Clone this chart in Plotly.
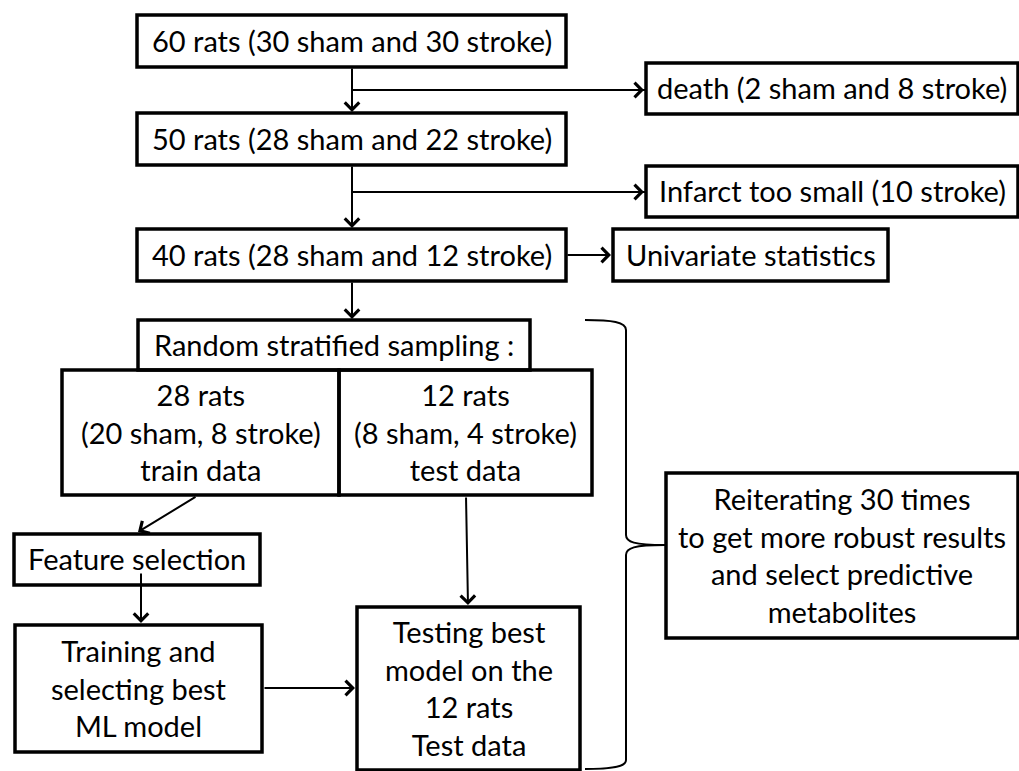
import plotly.graph_objects as go

# ---- content (text of the flow chart) ----
box_labels = [
    "60 rats (30 sham and 30 stroke)",
    "death (2 sham and 8 stroke)",
    "50 rats (28 sham and 22 stroke)",
    "Infarct too small (10 stroke)",
    "40 rats (28 sham and 12 stroke)",
    "Univariate statistics",
    "Random stratified sampling :",
    "28 rats<br>(20 sham, 8 stroke)<br>train data",
    "12 rats<br>(8 sham, 4 stroke)<br>test data",
    "Feature selection",
    "Training and<br>selecting best<br>ML model",
    "Testing best<br>model on the<br>12 rats<br>Test data",
    "Reiterating 30 times<br>to get more robust results<br>and select predictive<br>metabolites",
]

# ---- layout geometry (pixels, y downward) ----
box_rects = [
    (137, 15, 566, 67),
    (646, 63, 1018, 114),
    (137, 113, 566, 165),
    (646, 166, 1018, 217),
    (137, 229, 566, 281),
    (613, 229, 888, 281),
    (138, 320, 530, 370),
    (62, 370, 339, 495),
    (339, 370, 592, 495),
    (14, 534, 260, 585),
    (15, 625, 262, 752),
    (357, 607, 580, 770),
    (666, 473, 1018, 638),
]

# plain connector lines (no arrow)
lines = [
    (352, 90, 645, 90),
    (352, 192, 645, 192),
]
# arrows: (x_from, y_from, x_to, y_to)
arrows = [
    (352, 67, 352, 112),
    (352, 90, 644, 90),
    (352, 165, 352, 228),
    (352, 192, 644, 192),
    (566, 255, 611, 255),
    (352, 281, 352, 319),
    (197, 496, 138, 532),
    (141, 572, 141, 623),
    (466, 496, 468, 605),
    (263, 688, 355, 688),
]

W, H = 1019, 771
FONT = "Lato, Carlito, Calibri, sans-serif"
FS = 29

fig = go.Figure()
fig.add_trace(go.Scatter(x=[0, W], y=[0, H], mode="markers",
                         marker=dict(opacity=0), hoverinfo="skip", showlegend=False))

shapes = []
for (x0, y0, x1, y1) in box_rects:
    shapes.append(dict(type="rect", xref="x", yref="y", x0=x0, y0=y0, x1=x1, y1=y1,
                       line=dict(color="black", width=3.5), fillcolor="rgba(0,0,0,0)",
                       layer="above"))
for (x0, y0, x1, y1) in lines:
    shapes.append(dict(type="line", xref="x", yref="y", x0=x0, y0=y0, x1=x1, y1=y1,
                       line=dict(color="black", width=2)))

# curly brace
brace = ("M 585,320 C 612,320 626,322 626,330 L 626,535 C 626,542 634,545 665,545 "
         "M 665,545 C 634,545 626,548 626,555 L 626,760 C 626,767 612,769 585,769")
shapes.append(dict(type="path", xref="x", yref="y", path=brace,
                   line=dict(color="black", width=2)))

annotations = []
for (x0, y0, x1, y1), lab in zip(box_rects, box_labels):
    annotations.append(dict(x=(x0 + x1) / 2, y=(y0 + y1) / 2 - 1, xref="x", yref="y",
                            text=lab, showarrow=False, align="center",
                            font=dict(family=FONT, size=FS, color="black"),
                            xanchor="center", yanchor="middle"))
for (xa, ya, xb, yb) in arrows:
    annotations.append(dict(x=xb, y=yb, ax=xa, ay=ya, xref="x", yref="y",
                            axref="x", ayref="y", text="", showarrow=True,
                            arrowhead=4, arrowsize=1.4, arrowwidth=2,
                            arrowcolor="black", standoff=0, startstandoff=0))

fig.update_layout(
    width=W, height=H,
    margin=dict(l=0, r=0, t=0, b=0),
    paper_bgcolor="white", plot_bgcolor="white",
    xaxis=dict(range=[0, W], visible=False, fixedrange=True),
    yaxis=dict(range=[H, 0], visible=False, fixedrange=True),
    shapes=shapes, annotations=annotations, showlegend=False,
    hovermode=False,
)
fig.write_html("out.html", config={"displayModeBar": False, "staticPlot": True},
               post_script="document.body.style.margin='0';document.body.style.overflow='hidden';")
